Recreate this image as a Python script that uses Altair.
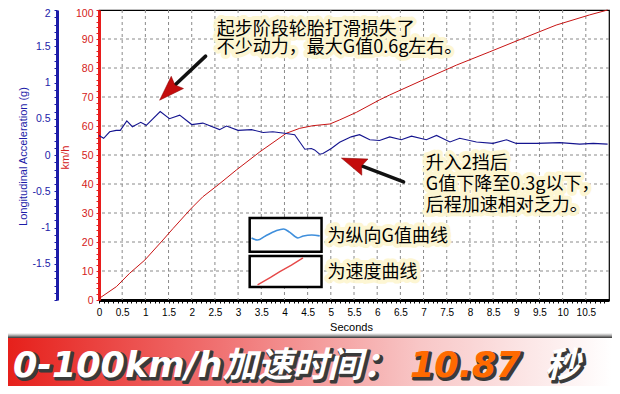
import altair as alt
import pandas as pd

# ---------------- data ----------------
g_time = [0.0, 0.1, 0.23, 0.37, 0.46, 0.6, 0.72, 0.9, 1.02, 1.32, 1.52, 1.74, 2.0, 2.24,
          2.6, 2.75, 3.0, 3.29, 3.54, 3.75, 4.0, 4.22, 4.44, 4.58, 4.65, 4.76, 4.83, 5.01,
          5.19, 5.44, 5.62, 5.84, 6.05, 6.27, 6.52, 6.74, 7.06, 7.28, 7.57, 7.78, 8.14,
          8.5, 8.79, 9.0, 9.44, 9.94, 10.37, 10.66, 10.97]
g_value = [0.27, 0.23, 0.32, 0.34, 0.34, 0.47, 0.39, 0.45, 0.41, 0.60, 0.50, 0.55, 0.42, 0.44,
           0.35, 0.40, 0.34, 0.35, 0.31, 0.32, 0.30, 0.28, 0.08, 0.09, 0.07, 0.01, 0.02, 0.09,
           0.175, 0.25, 0.28, 0.21, 0.20, 0.25, 0.21, 0.26, 0.21, 0.27, 0.18, 0.23, 0.18,
           0.16, 0.21, 0.16, 0.16, 0.17, 0.15, 0.16, 0.15]

speed_time = [0.0, 0.375, 0.66, 0.99, 1.38, 1.6, 1.99, 2.24, 2.57, 2.96, 3.47, 4.04, 4.33,
              4.61, 4.98, 5.19, 5.55, 6.05, 6.27, 6.99, 7.71, 8.43, 9.14, 9.86, 10.58, 10.97]
speed_kmh = [0.5, 4.6, 9.2, 13.8, 20.7, 24.7, 31.6, 35.6, 39.7, 44.8, 51.1, 57.5, 59.2,
             60.1, 60.7, 62.1, 64.7, 69.0, 70.7, 75.9, 81.0, 85.6, 90.2, 94.8, 98.3, 100.0]

# tick / grid positions
x_grid = [0.5, 1, 1.5, 2, 2.5, 3, 3.5, 4, 4.5, 5, 5.5, 6, 6.5, 7, 7.5, 8, 8.5, 9, 9.5,
          10, 10.5]
kmh_grid = [10, 20, 30, 40, 50, 60, 70, 80, 90]
x_ticks = [round(i * 0.1, 1) for i in range(0, 110)]
kmh_ticks = list(range(0, 101, 2))
g_ticks = [round(-2 + i * 0.1, 1) for i in range(0, 41)]

# annotations
ann_t = [2.54, 2.54, 7.05, 7.05, 7.05]
ann_kmh = [93.1, 86.9, 46.9, 39.7, 32.4]
ann_text = ["起步阶段轮胎打滑损失了", "不少动力，最大G值0.6g左右。",
            "升入2挡后", "G值下降至0.3g以下，", "后程加速相对乏力。"]

# arrows (tail -> head centre)
arr_t0 = [2.30, 6.57]
arr_k0 = [84.1, 40.7]
arr_t1 = [1.52, 5.51]
arr_k1 = [72.3, 47.2]
arr_angle = [225, 291]

# legend boxes
box_t0 = [3.25, 3.25]
box_t1 = [4.80, 4.80]
box_k0 = [28.3, 15.2]
box_k1 = [16.6, 4.5]
leg_t = [4.93, 4.93]
leg_kmh = [21.7, 9.3]
leg_text = ["为纵向G值曲线", "为速度曲线"]
icon_g_t = [3.29, 3.42, 3.59, 3.81, 3.98, 4.11, 4.29, 4.41, 4.59, 4.76]
icon_g_k = [21.4, 20.7, 22.1, 23.8, 24.5, 23.4, 21.4, 22.1, 22.4, 22.1]
icon_s_t = [3.42, 3.70, 3.90, 4.15, 4.40]
icon_s_k = [5.2, 7.8, 9.8, 12.0, 14.5]

CJK = "Noto Sans CJK SC"
BANNER_FONT = "DejaVu Sans, Noto Sans CJK SC"
LAT = "Liberation Sans"
BLUE = "#1c1ca8"
RED = "#e81c1c"

xs = alt.Scale(domain=[0, 11], nice=False, zero=False)
ks = alt.Scale(domain=[0, 100], nice=False, zero=False)
gs = alt.Scale(domain=[-2, 2], nice=False, zero=False)

x_axis = alt.Axis(
    title="Seconds", values=x_ticks,
    labelExpr="(round(datum.value*10) % 5 == 0 && datum.value <= 10.5) ? datum.value : ''",
    labelOverlap=False, labelFlush=False, grid=False,
    domainColor="black", domainWidth=3, tickColor="black", tickSize=3,
    labelColor="black", labelFont=LAT, labelFontSize=10, labelPadding=4,
    titleFont=LAT, titleFontSize=11, titleFontWeight="normal", titleColor="black",
    titleX=252, titleY=30, titleBaseline="alphabetic",
)


def X(field="t"):
    return alt.X(f"{field}:Q", scale=xs, axis=x_axis)


def YK(field="kmh", axis=None):
    return alt.Y(f"{field}:Q", scale=ks, axis=axis)


g_df = pd.DataFrame({"t": g_time, "g": g_value})
s_df = pd.DataFrame({"t": speed_time, "kmh": speed_kmh})

vgrid = alt.Chart(pd.DataFrame({"t": x_grid})).mark_rule(
    color="#8a8a8a", strokeDash=[3, 3], strokeWidth=1).encode(x=X())
hgrid = alt.Chart(pd.DataFrame({"kmh": kmh_grid})).mark_rule(
    color="#8a8a8a", strokeDash=[3, 3], strokeWidth=1).encode(y=YK())

kmh_axis = alt.Axis(
    title="km/h", values=kmh_ticks, orient="left",
    labelExpr="datum.value % 10 == 0 ? datum.value : ''",
    labelOverlap=False, labelFlush=False, grid=False,
    labelOffset={"condition": {"test": "datum.value == 100", "value": 3}, "value": 0},
    domainColor=RED, domainWidth=3, tickColor=RED, tickSize=3,
    labelColor="#d42020", labelFont=LAT, labelFontSize=10.5, labelPadding=3,
    titleFont=LAT, titleFontSize=11, titleFontWeight="normal", titleColor="#d42020",
    titleX=-34, titleY=147, titleAlign="center", titleBaseline="middle", titleAngle=270,
)
g_axis = alt.Axis(
    title="Longitudinal Acceleration (g)", values=g_ticks, orient="left", offset=42,
    labelExpr="(abs(datum.value*2 - round(datum.value*2)) < 0.01 && datum.value > -1.9) ? datum.value : ''",
    labelOverlap=False, labelFlush=False, grid=False,
    labelOffset={"condition": {"test": "datum.value == 2", "value": 3}, "value": 0},
    domainColor=BLUE, domainWidth=3, tickColor=BLUE, tickSize=3,
    labelColor=BLUE, labelFont=LAT, labelFontSize=10.5, labelPadding=4,
    titleFont=LAT, titleFontSize=11, titleFontWeight="normal", titleColor=BLUE,
    titleX=-34, titleY=146, titleAlign="center", titleBaseline="middle", titleAngle=270,
)

speed_line = alt.Chart(s_df).mark_line(color="#c81414", strokeWidth=1).encode(
    x=X(), y=YK("kmh", kmh_axis))
g_line = alt.Chart(g_df).mark_line(color="#14148f", strokeWidth=1.1).encode(
    x=X(), y=alt.Y("g:Q", scale=gs, axis=g_axis))

# arrows
arr_df = pd.DataFrame({"t0": arr_t0, "k0": arr_k0, "t1": arr_t1, "k1": arr_k1,
                       "angle": arr_angle})
shaft = alt.Chart(arr_df).mark_rule(color="#111111", strokeWidth=3.5,
                                    strokeCap="round").encode(
    x=X("t0"), x2="t1:Q", y=YK("k0"), y2="k1:Q")
head = alt.Chart(arr_df).mark_point(
    shape="M0,-1L0.62,0.8L0,0.55L-0.62,0.8Z", filled=True, fill="#c40c0c",
    stroke="#8a0000", strokeWidth=0.5, opacity=1, size=780).encode(
    x=X("t1"), y=YK("k1"), angle=alt.Angle("angle:Q", scale=None))

# annotation texts with pale glow
ann_df = pd.DataFrame({"t": ann_t, "kmh": ann_kmh, "text": ann_text})
ann_halo = alt.Chart(ann_df).mark_text(
    align="left", baseline="middle", font=CJK, fontSize=18, fill="#fdf6cf",
    stroke="#fdf6cf", strokeWidth=8, strokeJoin="round", opacity=0.9).encode(
    x=X(), y=YK(), text="text:N")
ann_txt = alt.Chart(ann_df).mark_text(
    align="left", baseline="middle", font=CJK, fontSize=18, color="black").encode(
    x=X(), y=YK(), text="text:N")

# legend
box_df = pd.DataFrame({"t0": box_t0, "t1": box_t1, "k0": box_k0, "k1": box_k1})
boxes = alt.Chart(box_df).mark_rect(fill="white", stroke="black", strokeWidth=2.5).encode(
    x=X("t0"), x2="t1:Q", y=YK("k0"), y2="k1:Q")
icon_g = alt.Chart(pd.DataFrame({"t": icon_g_t, "kmh": icon_g_k})).mark_line(
    color="#3f8fdc", strokeWidth=1.6, interpolate="monotone").encode(x=X(), y=YK())
icon_s = alt.Chart(pd.DataFrame({"t": icon_s_t, "kmh": icon_s_k})).mark_line(
    color="#e64848", strokeWidth=1.4).encode(x=X(), y=YK())
leg_df = pd.DataFrame({"t": leg_t, "kmh": leg_kmh, "text": leg_text})
leg_halo = alt.Chart(leg_df).mark_text(
    align="left", baseline="middle", font=CJK, fontSize=18, fill="#fdf6cf",
    stroke="#fdf6cf", strokeWidth=8, strokeJoin="round", opacity=0.9).encode(
    x=X(), y=YK(), text="text:N")
leg_txt = alt.Chart(leg_df).mark_text(
    align="left", baseline="middle", font=CJK, fontSize=18, color="black").encode(
    x=X(), y=YK(), text="text:N")

# bottom banner (decoration)
one = pd.DataFrame({"a": [0]})
shadow_bar = alt.Chart(one).mark_rect(
    fill=alt.LinearGradient(gradient="linear", x1=0, x2=0, y1=0, y2=1,
                            stops=[alt.GradientStop(color="#ffffff", offset=0),
                                   alt.GradientStop(color="#bdbdbd", offset=0.4),
                                   alt.GradientStop(color="#333333", offset=1)])).encode(
    x=alt.value(-91), x2=alt.value(513), y=alt.value(323), y2=alt.value(328))
banner = alt.Chart(one).mark_rect(
    fill=alt.LinearGradient(gradient="linear", x1=0, x2=1, y1=0, y2=0,
                            stops=[alt.GradientStop(color="#e6201b", offset=0),
                                   alt.GradientStop(color="#f07272", offset=0.35),
                                   alt.GradientStop(color="#f8c6c6", offset=0.68),
                                   alt.GradientStop(color="#ffffff", offset=1)])).encode(
    x=alt.value(-91), x2=alt.value(513), y=alt.value(328), y2=alt.value(376))

b_text = ["0-100km/h加速时间：", "10.87", "秒"]
b_x = [-86, 311, 446]
b_fill = ["#ffffff", "#ff6a00", "#ffffff"]
b_layers = []
for txt, bx, fc in zip(b_text, b_x, b_fill):
    b_layers.append(alt.Chart(one).mark_text(
        align="left", baseline="alphabetic", font=BANNER_FONT, fontSize=35,
        fontWeight="bold", fontStyle="italic", fill="#3a3a3a", stroke="#3a3a3a",
        strokeWidth=3, strokeJoin="round", text=txt).encode(
        x=alt.value(bx + 2), y=alt.value(369)))
    b_layers.append(alt.Chart(one).mark_text(
        align="left", baseline="alphabetic", font=BANNER_FONT, fontSize=35,
        fontWeight="bold", fontStyle="italic", fill=fc, text=txt).encode(
        x=alt.value(bx), y=alt.value(367)))

chart = alt.layer(
    vgrid, hgrid, speed_line, g_line, shaft, head, ann_halo, ann_txt,
    boxes, icon_g, icon_s, leg_halo, leg_txt, shadow_bar, banner, *b_layers
).resolve_scale(y="independent").properties(
    width=510, height=290,
    padding={"left": 91, "top": 2, "right": 3, "bottom": 86},
    autosize=alt.AutoSizeParams(type="none"),
    background="white",
).configure_view(stroke="black", strokeWidth=1.2)

chart.save("out.html", embed_options={"renderer": "svg", "actions": False})
